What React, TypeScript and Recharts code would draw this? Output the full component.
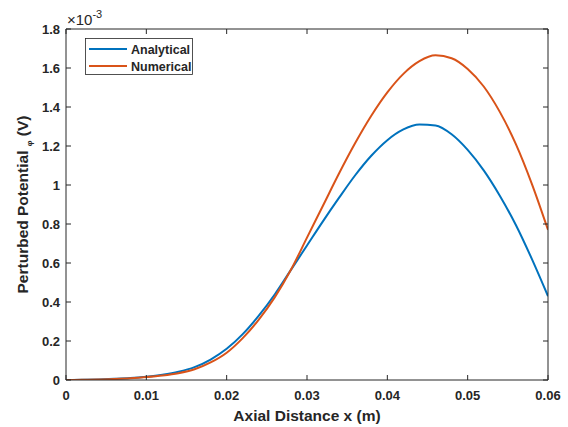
import React from "react";
import { LineChart, Line, XAxis, YAxis, Legend, Label } from "recharts";

// axial distance (m) and potential in units of 1e-3 V
const xValues = [
  0, 0.002, 0.004, 0.006, 0.008, 0.01, 0.012, 0.014, 0.016, 0.018, 0.02,
  0.022, 0.024, 0.026, 0.028, 0.03, 0.032, 0.034, 0.036, 0.038, 0.04,
  0.042, 0.044, 0.046, 0.048, 0.05, 0.052, 0.054, 0.056, 0.058, 0.06,
];
const analytical = [
  0, 0.001, 0.003, 0.006, 0.01, 0.017, 0.027, 0.042, 0.066, 0.105, 0.16,
  0.235, 0.33, 0.44, 0.565, 0.69, 0.815, 0.935, 1.05, 1.15, 1.23,
  1.285, 1.31, 1.305, 1.26, 1.18, 1.075, 0.945, 0.795, 0.62, 0.43,
];
const numerical = [
  0, 0.001, 0.002, 0.005, 0.009, 0.015, 0.023, 0.035, 0.055, 0.09, 0.14,
  0.215, 0.31, 0.425, 0.565, 0.73, 0.895, 1.06, 1.215, 1.355, 1.475,
  1.57, 1.635, 1.665, 1.65, 1.595, 1.505, 1.375, 1.21, 1.005, 0.77,
];
const xTicks = [0, 0.01, 0.02, 0.03, 0.04, 0.05, 0.06];
const yTicks = [0, 0.2, 0.4, 0.6, 0.8, 1, 1.2, 1.4, 1.6, 1.8];

const data = xValues.map((x, i) => ({
  x,
  analytical: analytical[i],
  numerical: numerical[i],
}));

const AXIS = "#262626";
const FONT = '"Liberation Sans", Arial, Helvetica, sans-serif';
const TICK_LEN = 5;

const BottomTick = ({ x, y, payload }: any) => (
  <g>
    <line x1={x} y1={y} x2={x} y2={y - TICK_LEN} stroke={AXIS} strokeWidth={1} />
    <text x={x} y={y + 20} textAnchor="middle" fill={AXIS} fontSize={13} fontWeight="bold" fontFamily={FONT}>
      {payload.value}
    </text>
  </g>
);

const LeftTick = ({ x, y, payload }: any) => (
  <g>
    <line x1={x} y1={y} x2={x + TICK_LEN} y2={y} stroke={AXIS} strokeWidth={1} />
    <text x={x - 6} y={y + 4.5} textAnchor="end" fill={AXIS} fontSize={13} fontWeight="bold" fontFamily={FONT}>
      {payload.value}
    </text>
  </g>
);

// top / right axes only carry inward ticks (box style)
const TopTick = ({ x, y }: any) => (
  <line x1={x} y1={y} x2={x} y2={y + TICK_LEN} stroke={AXIS} strokeWidth={1} />
);

const RightTick = ({ x, y }: any) => (
  <line x1={x} y1={y} x2={x - TICK_LEN} y2={y} stroke={AXIS} strokeWidth={1} />
);

const XTitle = ({ viewBox }: any) => (
  <text
    x={viewBox.x + viewBox.width / 2}
    y={viewBox.y + 41}
    textAnchor="middle"
    fill={AXIS}
    fontSize={15.5}
    fontWeight="bold"
    fontFamily={FONT}
  >
    Axial Distance x (m)
  </text>
);

const YTitle = ({ viewBox }: any) => {
  const cx = viewBox.x + 28;
  const cy = viewBox.y + viewBox.height / 2;
  return (
    <text
      transform={`translate(${cx},${cy}) rotate(-90)`}
      textAnchor="middle"
      fill={AXIS}
      fontSize={15.5}
      fontWeight="bold"
      fontFamily={FONT}
    >
      Perturbed Potential{" "}
      <tspan fontSize={8} dy={4}>φ</tspan>
      <tspan dy={-4}> (V)</tspan>
    </text>
  );
};

const Exponent = ({ viewBox }: any) => (
  <text x={viewBox.x + 1} y={viewBox.y + viewBox.height - 4} fill={AXIS} fontSize={15} fontFamily={FONT}>
    ×10
    <tspan fontSize={11} dy={-7}>-3</tspan>
  </text>
);

const LegendBox = ({ payload }: any) => (
  <svg width={109} height={38} style={{ display: "block" }}>
    <rect x={0.5} y={0.5} width={107} height={36} fill="#fff" stroke={AXIS} strokeWidth={0.8} />
    {(payload || []).map((entry: any, i: number) => (
      <g key={entry.value}>
        <line x1={4} x2={42} y1={11 + i * 17} y2={11 + i * 17} stroke={entry.color} strokeWidth={2} />
        <text x={46} y={15.5 + i * 17} fontSize={12.5} fontWeight="bold" fill={AXIS} fontFamily={FONT}>
          {entry.value}
        </text>
      </g>
    ))}
  </svg>
);

export default function App() {
  return (
    <div style={{ position: "absolute", left: 0, top: 0, background: "#fff" }}>
      <LineChart
        width={568}
        height={427}
        data={data}
        margin={{ top: 28, right: 19, bottom: 0, left: 0 }}
      >
        <XAxis
          dataKey="x"
          type="number"
          domain={[0, 0.06]}
          ticks={xTicks}
          allowDataOverflow
          height={47}
          stroke={AXIS}
          tickLine={false}
          tickSize={0}
          tickMargin={0}
          tick={<BottomTick />}
          interval={0}
        >
          <Label content={<XTitle />} />
        </XAxis>
        <XAxis
          xAxisId="top"
          orientation="top"
          dataKey="x"
          type="number"
          domain={[0, 0.06]}
          ticks={xTicks}
          allowDataOverflow
          height={1}
          stroke={AXIS}
          tickLine={false}
          tickSize={0}
          tickMargin={0}
          tick={<TopTick />}
          interval={0}
        >
          <Label content={<Exponent />} />
        </XAxis>
        <YAxis
          type="number"
          domain={[0, 1.8]}
          ticks={yTicks}
          allowDataOverflow
          width={66}
          stroke={AXIS}
          tickLine={false}
          tickSize={0}
          tickMargin={0}
          tick={<LeftTick />}
          interval={0}
        >
          <Label content={<YTitle />} />
        </YAxis>
        <YAxis
          yAxisId="right"
          orientation="right"
          type="number"
          domain={[0, 1.8]}
          ticks={yTicks}
          allowDataOverflow
          width={1}
          stroke={AXIS}
          tickLine={false}
          tickSize={0}
          tickMargin={0}
          tick={<RightTick />}
          interval={0}
        />
        <Legend
          layout="vertical"
          align="center"
          verticalAlign="middle"
          content={<LegendBox />}
          wrapperStyle={{ position: "absolute", left: 85, top: 38, width: 109, margin: 0 }}
        />
        <Line
          type="monotone"
          dataKey="analytical"
          name="Analytical"
          stroke="#0072BD"
          strokeWidth={2}
          dot={false}
          activeDot={false}
          isAnimationActive={false}
        />
        <Line
          type="monotone"
          dataKey="numerical"
          name="Numerical"
          stroke="#D95319"
          strokeWidth={2}
          dot={false}
          activeDot={false}
          isAnimationActive={false}
        />
      </LineChart>
    </div>
  );
}
